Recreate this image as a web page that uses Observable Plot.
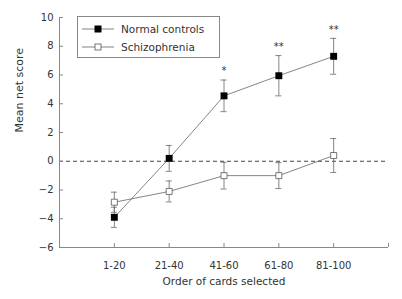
<!DOCTYPE html>
<html><head><meta charset="utf-8">
<script src="https://cdn.jsdelivr.net/npm/d3@7"></script>
<script src="https://cdn.jsdelivr.net/npm/@observablehq/plot@0.6"></script>
<style>
body{margin:0;background:#fff;}
#wrap{position:relative;width:402px;height:299px;font-family:"DejaVu Sans",sans-serif;}
#legend{position:absolute;left:77px;top:16px;width:143px;height:42px;border:1px solid #888;box-sizing:border-box;font-size:10.5px;color:#333;background:#fff;}
.row{position:absolute;left:4px;display:flex;align-items:center;height:13px;}
.row span{margin-left:7px;}
</style></head>
<body><div id="wrap"><div id="chart"></div>
<div id="legend">
<div class="row" style="top:5px"><svg width="32" height="10"><line x1="0" x2="32" y1="5" y2="5" stroke="#666" stroke-width="0.8"/><rect x="12.5" y="1.5" width="7" height="7" fill="#000"/></svg><span>Normal controls</span></div>
<div class="row" style="top:23px"><svg width="32" height="10"><line x1="0" x2="32" y1="5" y2="5" stroke="#666" stroke-width="0.8"/><rect x="13" y="2" width="6" height="6" fill="#fff" stroke="#555" stroke-width="0.8"/></svg><span>Schizophrenia</span></div>
</div></div>
<script>
const categories = ["1-20","21-40","41-60","61-80","81-100"];
const normalMean = [-3.9, 0.2, 4.55, 5.95, 7.3];
const normalErr  = [0.7, 0.9, 1.1, 1.4, 1.25];
const schizMean  = [-2.85, -2.1, -1.0, -1.0, 0.4];
const schizErr   = [0.7, 0.73, 0.93, 0.9, 1.18];
const stars      = ["", "", "*", "**", "**"];
const yTicks = [-6,-4,-2,0,2,4,6,8,10];

const normal = categories.map((c,i)=>({x:i+1, y:normalMean[i], e:normalErr[i], s:stars[i]}));
const schiz  = categories.map((c,i)=>({x:i+1, y:schizMean[i], e:schizErr[i]}));
const cap = 0.055;
const lc = "#666";

const chart = Plot.plot({
  width: 402, height: 299,
  marginLeft: 59, marginRight: 14, marginTop: 17, marginBottom: 52,
  style: {fontFamily: "DejaVu Sans, sans-serif", fontSize: "10px", color: "#333", background: "#fff"},
  x: {domain: [0, 6]},
  y: {domain: [-6, 10]},
  marks: [
    Plot.ruleY([0], {stroke: "#444", strokeDasharray: "4,3", strokeWidth: 1}),
    Plot.axisY({ticks: yTicks, tickSize: -4, tickPadding: 10, stroke: "#888", label: null}),
    Plot.axisX({ticks: [1,2,3,4,5,6], tickFormat: i => categories[i-1] ?? "", tickSize: -4, tickPadding: 18, stroke: "#888", label: null}),
    Plot.ruleX([0], {stroke: "#888"}),
    Plot.ruleY([-6], {stroke: "#888"}),
    Plot.text(["Mean net score"], {frameAnchor: "left", rotate: -90, dx: -40, fontSize: 11}),
    Plot.text(["Order of cards selected"], {frameAnchor: "bottom", dy: 37, fontSize: 10.5}),
    // schizophrenia
    Plot.ruleX(schiz, {x: "x", y1: d=>d.y-d.e, y2: d=>d.y+d.e, stroke: lc, strokeWidth: 0.8}),
    Plot.ruleY(schiz, {y: d=>d.y-d.e, x1: d=>d.x-cap, x2: d=>d.x+cap, stroke: lc, strokeWidth: 0.8}),
    Plot.ruleY(schiz, {y: d=>d.y+d.e, x1: d=>d.x-cap, x2: d=>d.x+cap, stroke: lc, strokeWidth: 0.8}),
    Plot.line(schiz, {x: "x", y: "y", stroke: lc, strokeWidth: 0.8}),
    Plot.dot(schiz, {x: "x", y: "y", symbol: "square", r: 3.4, fill: "#fff", stroke: "#555", strokeWidth: 0.8}),
    // normal
    Plot.ruleX(normal, {x: "x", y1: d=>d.y-d.e, y2: d=>d.y+d.e, stroke: lc, strokeWidth: 0.8}),
    Plot.ruleY(normal, {y: d=>d.y-d.e, x1: d=>d.x-cap, x2: d=>d.x+cap, stroke: lc, strokeWidth: 0.8}),
    Plot.ruleY(normal, {y: d=>d.y+d.e, x1: d=>d.x-cap, x2: d=>d.x+cap, stroke: lc, strokeWidth: 0.8}),
    Plot.line(normal, {x: "x", y: "y", stroke: lc, strokeWidth: 0.8}),
    Plot.dot(normal, {x: "x", y: "y", symbol: "square", r: 3.9, fill: "#000", stroke: "none"}),
    Plot.text(normal, {x: "x", y: d=>d.y+d.e, text: "s", dy: -9, fontSize: 10, fill: "#333"})
  ]
});
document.getElementById("chart").appendChild(chart);
</script></body></html>
